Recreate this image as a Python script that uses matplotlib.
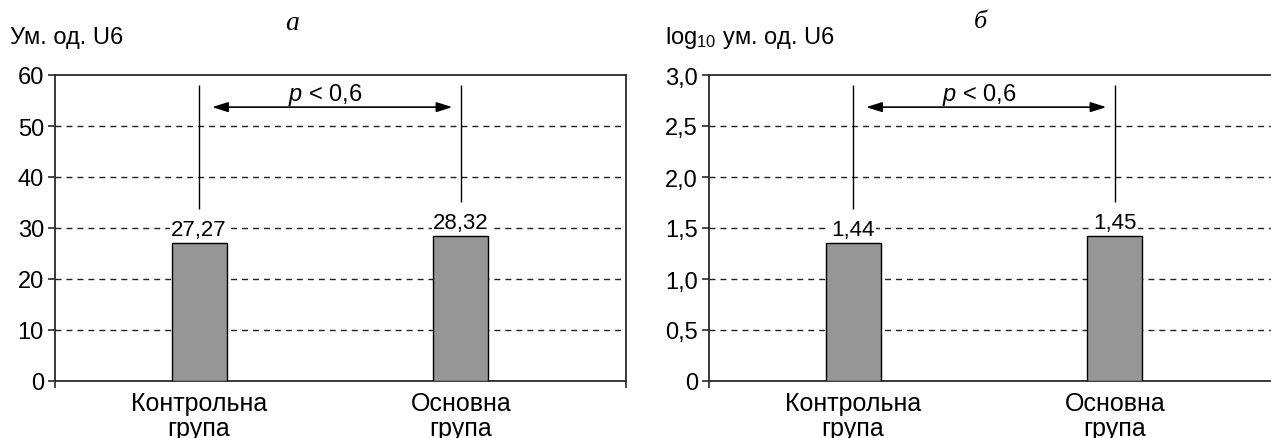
import matplotlib
matplotlib.use('Agg')
import matplotlib.pyplot as plt

plt.rcParams['font.family'] = ['Liberation Sans', 'DejaVu Sans']
plt.rcParams['mathtext.fontset'] = 'custom'
plt.rcParams['mathtext.rm'] = 'Liberation Sans'
plt.rcParams['mathtext.it'] = 'Liberation Sans:italic'

# ---- data ----
categories = ['Контрольна\nгрупа', 'Основна\nгрупа']
bars_a = [27.06, 28.4]
labels_a = ['27,27', '28,32']
bars_b = [1.353, 1.42]
labels_b = ['1,44', '1,45']
yticks_a = [0, 10, 20, 30, 40, 50, 60]
yticklabels_a = ['0', '10', '20', '30', '40', '50', '60']
yticks_b = [0, 0.5, 1.0, 1.5, 2.0, 2.5, 3.0]
yticklabels_b = ['0', '0,5', '1,0', '1,5', '2,0', '2,5', '3,0']
line_top_a = 58.0
line_bottoms_a = [33.7, 35.1]
line_top_b = 2.9
line_bottoms_b = [1.686, 1.755]
arrow_y_a = 53.7
arrow_y_b = 2.685
p_text = '$p$ < 0,6'
ylabel_a = 'Ум. од. U6'
ylabel_b = 'log$_{10}$ ум. од. U6'
panel_a = 'а'
panel_b = 'б'

W, H = 1271, 439
fig = plt.figure(figsize=(W / 100, H / 100), dpi=100)
ax1 = fig.add_axes([55 / W, 57 / H, 571 / W, 306 / H])
ax2 = fig.add_axes([709 / W, 57 / H, 571 / W, 306 / H])

XMIN, XMAX = -0.55, 1.63
SPINE = '#2a2a2a'


def draw(ax, bars, labels, yt, ytl, top, bottoms, arrow_y):
    x = [0, 1]
    ymax = yt[-1]
    ax.set_xlim(XMIN, XMAX)
    ax.set_ylim(0, ymax)
    for yv in yt[1:-1]:
        ax.axhline(yv, color='#222222', lw=1.0, ls=(0, (4.3, 3.6)), zorder=1)
    ax.bar(x, bars, width=0.21, color='#969696', edgecolor='black',
           linewidth=1.0, zorder=3)
    for xi, h, lab in zip(x, bars, labels):
        ax.annotate(lab, (xi, h), xytext=(0, 6), textcoords='offset points',
                    ha='center', va='baseline', fontsize=16, zorder=4,
                    bbox=dict(boxstyle='square,pad=0.05', fc='white', ec='none'))
    ax.vlines(x, bottoms, top, color='black', lw=1.0, zorder=2)
    ax.annotate('', xy=(0.05, arrow_y), xytext=(0.967, arrow_y),
                arrowprops=dict(arrowstyle='<|-|>,head_length=0.95,head_width=0.3',
                                color='black', lw=1.2, shrinkA=0, shrinkB=0),
                zorder=4)
    ax.text(0.482, arrow_y + ymax * 0.023, p_text, ha='center', va='baseline',
            fontsize=17, zorder=4)
    ax.set_yticks(yt)
    ax.set_yticklabels(ytl)
    ax.set_xticks(x)
    ax.set_xticklabels(categories, linespacing=1.05)
    ax.set_xticks([XMIN, XMAX], minor=True)
    ax.tick_params(axis='y', length=5, width=1.2, color=SPINE, labelsize=17, pad=3)
    ax.tick_params(axis='x', which='major', length=0, labelsize=18, pad=7)
    ax.tick_params(axis='x', which='minor', length=5, width=1.2, color=SPINE)
    for s in ax.spines.values():
        s.set_color(SPINE)
        s.set_linewidth(1.3)


draw(ax1, bars_a, labels_a, yticks_a, yticklabels_a, line_top_a, line_bottoms_a, arrow_y_a)
draw(ax2, bars_b, labels_b, yticks_b, yticklabels_b, line_top_b, line_bottoms_b, arrow_y_b)

fig.text(10 / W, 1 - 38 / H, ylabel_a, ha='left', va='center', fontsize=17)
fig.text(665 / W, 1 - 38 / H, ylabel_b, ha='left', va='center', fontsize=17)
fig.text(292 / W, 1 - 23 / H, panel_a, ha='center', va='center', fontsize=20,
         family='Liberation Serif', style='italic')
fig.text(980 / W, 1 - 22 / H, panel_b, ha='center', va='center', fontsize=19,
         family='Liberation Serif', style='italic')

fig.savefig('out.png', dpi=100)
